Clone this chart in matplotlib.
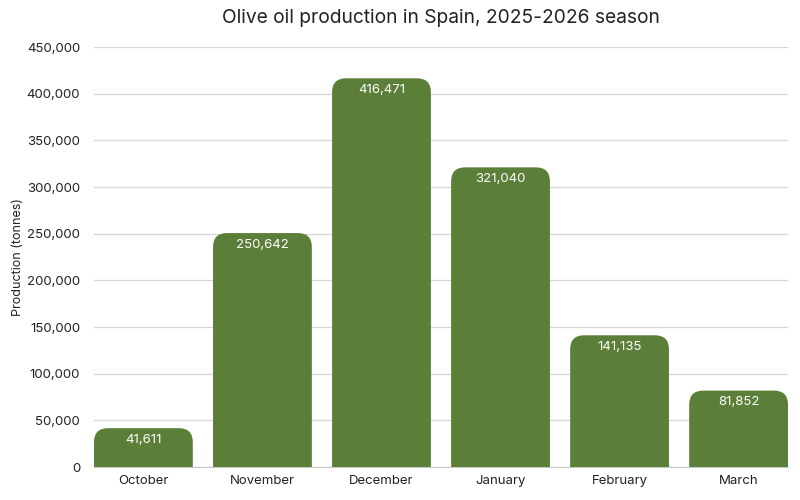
import matplotlib.pyplot as plt
from matplotlib.patches import FancyBboxPatch
from matplotlib.ticker import FuncFormatter

plt.rcParams['font.family'] = ['Inter', 'DejaVu Sans']

months = ['October', 'November', 'December', 'January', 'February', 'March']
production = [41611, 250642, 416471, 321040, 141135, 81852]

bar_color = '#5b7f38'
bar_width = 0.83

fig = plt.figure(figsize=(8, 5), dpi=100)
ax = fig.add_axes([94 / 800, 1 - 467 / 500, (788 - 94) / 800, 420 / 500])

ax.set_xlim(-bar_width / 2, len(months) - 1 + bar_width / 2)
ax.set_ylim(0, 450000)

# rounding radius in pixels, converted to data units along each axis
radius_px = 14
x_per_px = (len(months) - 1 + bar_width) / 694
y_per_px = 450000 / 420
rx = radius_px * x_per_px
ry = radius_px * y_per_px

bars = ax.bar(range(len(months)), production, width=bar_width, color=bar_color)
for b in bars:
    b.set_visible(False)
    # extend below zero so the bottom corners are clipped away
    patch = FancyBboxPatch((b.get_x(), -ry * 2), b.get_width(), b.get_height() + ry * 2,
                           boxstyle=f'round,pad=0,rounding_size={rx}',
                           mutation_aspect=ry / rx,
                           facecolor=bar_color, edgecolor='none', zorder=3)
    ax.add_patch(patch)

for i, v in enumerate(production):
    ax.annotate(f'{v:,}', (i, v), xytext=(0, -4), textcoords='offset points',
                ha='center', va='top', color='white', fontsize=9.5, zorder=4)

ax.set_xticks(range(len(months)))
ax.set_xticklabels(months)
ax.set_yticks(range(0, 450001, 50000))
ax.yaxis.set_major_formatter(FuncFormatter(lambda v, p: f'{int(v):,}'))
ax.tick_params(axis='both', length=0, labelsize=9.5, colors='#222222')
ax.tick_params(axis='y', pad=10)
ax.tick_params(axis='x', pad=6)

ax.grid(axis='y', color='#d6d6d6', linewidth=0.9, zorder=0)
ax.set_axisbelow(True)
for s in ['top', 'right', 'left']:
    ax.spines[s].set_visible(False)
ax.spines['bottom'].set_color('#c8c8c8')

ax.set_ylabel('Production (tonnes)', fontsize=9, color='#222222')
ax.yaxis.set_label_coords(-0.101, 0.5)
fig.text(441 / 800, 1 - 18 / 500, 'Olive oil production in Spain, 2025-2026 season',
         ha='center', va='center', fontsize=13.8, color='#222222')

fig.savefig('out.png', dpi=100)
